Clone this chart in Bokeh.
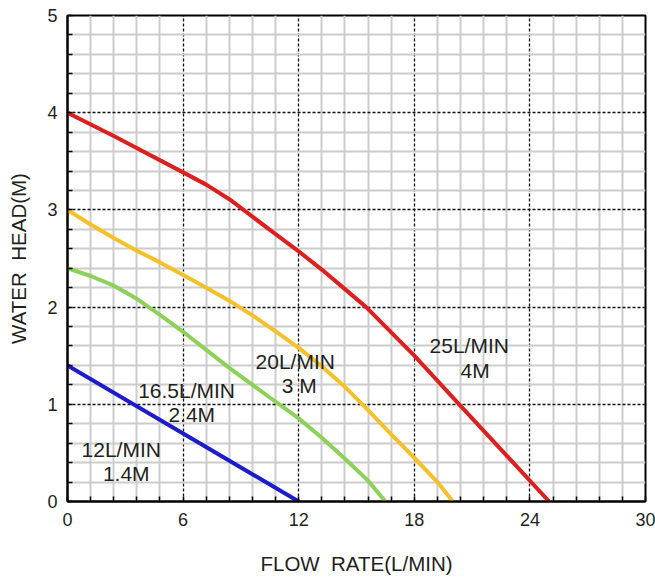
from bokeh.plotting import figure
from bokeh.models import FixedTicker, ColumnDataSource
from bokeh.core.properties import value
from bokeh.embed import file_html
from bokeh.resources import INLINE

# ---- data ----
red_x = [0, 2.4, 6, 7.2, 8.4, 9.6, 10.8, 12, 13.2, 14.4, 15.5, 18, 20.33, 25]
red_y = [4.0, 3.76, 3.386, 3.26, 3.11, 2.93, 2.75, 2.573, 2.386, 2.185, 2.0, 1.5, 1.0, 0]
yellow_x = [0, 1.2, 2.4, 3.6, 4.8, 6, 7.2, 8.4, 9.6, 10.8, 12, 13.2, 14.4, 15.6, 16.8, 18, 19.2, 20]
yellow_y = [3.0, 2.85, 2.71, 2.58, 2.46, 2.33, 2.20, 2.065, 1.915, 1.75, 1.58, 1.39, 1.18, 0.94, 0.69, 0.45, 0.2, 0]
green_x = [0, 1.2, 2.4, 3.6, 4.8, 6, 7.2, 8.4, 9.6, 10.5, 12, 13.2, 14.4, 15.6, 16.5]
green_y = [2.4, 2.32, 2.22, 2.085, 1.92, 1.746, 1.56, 1.375, 1.2, 1.07, 0.855, 0.655, 0.44, 0.215, 0]
blue_x = [0, 6, 12]
blue_y = [1.4, 0.7, 0]

label_text = ["25L/MIN", "4M", "20L/MIN", "3 M", "16.5L/MIN", "2.4M", "12L/MIN", "1.4M"]
label_x = [20.85, 21.16, 11.82, 12.03, 6.18, 6.45, 2.79, 3.05]
label_y = [1.6, 1.35, 1.44, 1.19, 1.14, 0.90, 0.53, 0.29]

x_major = [0, 6, 12, 18, 24, 30]
y_major = [0, 1, 2, 3, 4, 5]
x_minor = [round(i * 1.2, 2) for i in range(26) if i % 5 != 0]
y_minor = [round(i * 0.2, 2) for i in range(26) if i % 5 != 0]

x_title = "FLOW\u00a0 RATE(L/MIN)"
y_title = "WATER\u00a0 HEAD(M)"

FONT = "Liberation Sans"
TXT = "#231f20"

p = figure(width=655, height=581, x_range=(0, 30), y_range=(0, 5),
           output_backend="svg", toolbar_location=None,
           min_border_left=67, min_border_top=15, min_border_right=10, min_border_bottom=80)
p.background_fill_color = "white"
p.border_fill_color = "white"
p.outline_line_color = "black"
p.outline_line_width = 2

p.xaxis.ticker = FixedTicker(ticks=x_major, minor_ticks=x_minor)
p.yaxis.ticker = FixedTicker(ticks=y_major, minor_ticks=y_minor)

for g in (p.xgrid[0], p.ygrid[0]):
    g.grid_line_color = "#111111"
    g.grid_line_dash = "3 2"
    g.grid_line_width = 1.3
    g.minor_grid_line_color = "#cccccc"
    g.minor_grid_line_width = 2
    g.level = "underlay"

for ax in (p.xaxis[0], p.yaxis[0]):
    ax.axis_line_color = "black"
    ax.axis_line_width = 2
    ax.major_tick_in = 5
    ax.major_tick_out = 0
    ax.minor_tick_in = 5
    ax.minor_tick_out = 0
    ax.major_tick_line_color = "black"
    ax.minor_tick_line_color = "black"
    ax.major_tick_line_width = 1.5
    ax.minor_tick_line_width = 1.5
    ax.major_label_text_font = FONT
    ax.major_label_text_font_size = "18px"
    ax.major_label_text_color = TXT
    ax.axis_label_text_font = FONT
    ax.axis_label_text_font_size = "20.5px"
    ax.axis_label_text_font_style = "normal"
    ax.axis_label_text_color = TXT

p.xaxis.axis_label = x_title
p.yaxis.axis_label = y_title
p.xaxis.major_label_standoff = 11
p.xaxis.axis_label_standoff = 23
p.yaxis.major_label_standoff = 10
p.yaxis.axis_label_standoff = 14

p.line(blue_x, blue_y, line_color="#1c1ccc", line_width=4)
p.line(green_x, green_y, line_color="#8dd05a", line_width=4, line_join="round")
p.line(yellow_x, yellow_y, line_color="#f5c12b", line_width=4, line_join="round")
p.line(red_x, red_y, line_color="#dc1f1f", line_width=4, line_join="round")

src = ColumnDataSource(dict(x=label_x, y=label_y, t=label_text))
p.text(x="x", y="y", text="t", source=src, text_font=value(FONT),
       text_font_size="21px", text_align="center", text_baseline="middle",
       text_color=TXT)

open("out.html", "w").write(file_html(p, INLINE))
